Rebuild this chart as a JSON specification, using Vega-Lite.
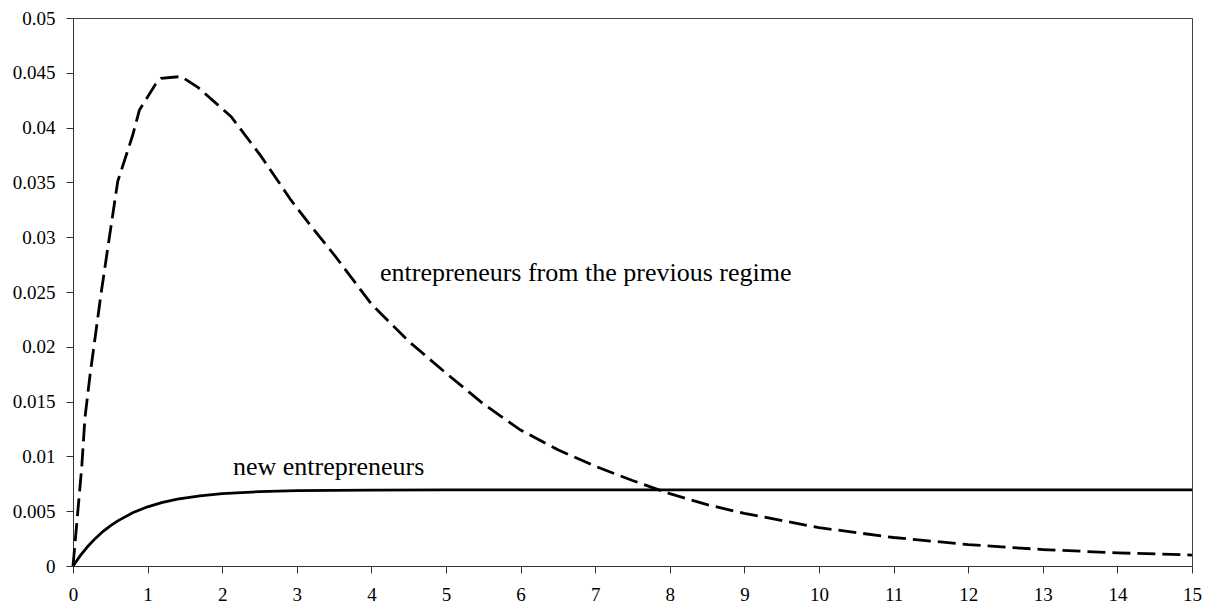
{
  "$schema": "https://vega.github.io/schema/vega-lite/v6.json",
  "width": 1119,
  "height": 548,
  "autosize": {"type": "none"},
  "padding": {"left": 73, "top": 18, "right": 14, "bottom": 39},
  "background": "white",
  "config": {
    "font": "Liberation Serif",
    "view": {"stroke": "#444", "strokeWidth": 1},
    "axis": {
      "labelFont": "Liberation Serif",
      "labelFontSize": 19,
      "labelColor": "black",
      "domainColor": "#333",
      "tickColor": "#333",
      "tickSize": 7,
      "grid": false,
      "title": null
    },
    "text": {"font": "Liberation Serif"}
  },
  "datasets": {
    "curves": [
      {"series": "previous", "t": 0, "v": 0},
      {"series": "previous", "t": 0.035, "v": 0.0027},
      {"series": "previous", "t": 0.07, "v": 0.0054},
      {"series": "previous", "t": 0.117, "v": 0.009},
      {"series": "previous", "t": 0.16, "v": 0.0135},
      {"series": "previous", "t": 0.23, "v": 0.0175},
      {"series": "previous", "t": 0.375, "v": 0.0248},
      {"series": "previous", "t": 0.49, "v": 0.0301},
      {"series": "previous", "t": 0.6, "v": 0.0351},
      {"series": "previous", "t": 0.8, "v": 0.0393},
      {"series": "previous", "t": 0.89, "v": 0.0416},
      {"series": "previous", "t": 1.11, "v": 0.044},
      {"series": "previous", "t": 1.18, "v": 0.0445},
      {"series": "previous", "t": 1.45, "v": 0.04466},
      {"series": "previous", "t": 1.67, "v": 0.0437},
      {"series": "previous", "t": 2.12, "v": 0.041},
      {"series": "previous", "t": 2.52, "v": 0.0374},
      {"series": "previous", "t": 2.92, "v": 0.0334},
      {"series": "previous", "t": 3.17, "v": 0.0312},
      {"series": "previous", "t": 3.5, "v": 0.0284},
      {"series": "previous", "t": 4.0, "v": 0.0239},
      {"series": "previous", "t": 4.5, "v": 0.0205},
      {"series": "previous", "t": 5.0, "v": 0.0176},
      {"series": "previous", "t": 5.5, "v": 0.0148},
      {"series": "previous", "t": 6.0, "v": 0.0124},
      {"series": "previous", "t": 6.5, "v": 0.0106},
      {"series": "previous", "t": 7.0, "v": 0.0091},
      {"series": "previous", "t": 7.5, "v": 0.0078},
      {"series": "previous", "t": 8.0, "v": 0.0066},
      {"series": "previous", "t": 8.5, "v": 0.0056},
      {"series": "previous", "t": 9.0, "v": 0.0048},
      {"series": "previous", "t": 10.0, "v": 0.0035},
      {"series": "previous", "t": 11.0, "v": 0.0026},
      {"series": "previous", "t": 12.0, "v": 0.00195},
      {"series": "previous", "t": 13.0, "v": 0.0015},
      {"series": "previous", "t": 14.0, "v": 0.0012},
      {"series": "previous", "t": 15.0, "v": 0.001},
      {"series": "new", "t": 0, "v": 0},
      {"series": "new", "t": 0.1, "v": 0.00097},
      {"series": "new", "t": 0.2, "v": 0.0018},
      {"series": "new", "t": 0.3, "v": 0.00252},
      {"series": "new", "t": 0.4, "v": 0.00314},
      {"series": "new", "t": 0.5, "v": 0.00367},
      {"series": "new", "t": 0.6, "v": 0.00412},
      {"series": "new", "t": 0.8, "v": 0.00486},
      {"series": "new", "t": 1.0, "v": 0.0054},
      {"series": "new", "t": 1.2, "v": 0.0058},
      {"series": "new", "t": 1.4, "v": 0.0061},
      {"series": "new", "t": 1.7, "v": 0.0064},
      {"series": "new", "t": 2.0, "v": 0.0066},
      {"series": "new", "t": 2.5, "v": 0.00679},
      {"series": "new", "t": 3.0, "v": 0.00687},
      {"series": "new", "t": 4.0, "v": 0.00693},
      {"series": "new", "t": 5.0, "v": 0.00695},
      {"series": "new", "t": 15.0, "v": 0.00695}
    ],
    "labels": [
      {"t": 2.145, "v": 0.0083, "text": "new entrepreneurs"},
      {"t": 4.115, "v": 0.026, "text": "entrepreneurs from the previous regime"}
    ]
  },
  "encoding": {
    "x": {
      "field": "t",
      "type": "quantitative",
      "scale": {"domain": [0, 15], "nice": false},
      "axis": {"values": [0,1,2,3,4,5,6,7,8,9,10,11,12,13,14,15], "labelPadding": 12, "labelFlush": false}
    },
    "y": {
      "field": "v",
      "type": "quantitative",
      "scale": {"domain": [0, 0.05], "nice": false},
      "axis": {"values": [0,0.005,0.01,0.015,0.02,0.025,0.03,0.035,0.04,0.045,0.05], "labelExpr": "format(datum.value, '~g')", "labelPadding": 11, "labelFlush": false}
    }
  },
  "layer": [
    {
      "data": {"name": "curves"},
      "transform": [{"filter": "datum.series === 'previous'"}],
      "mark": {"type": "line", "color": "black", "strokeWidth": 2.8, "strokeDash": [18, 7]}
    },
    {
      "data": {"name": "curves"},
      "transform": [{"filter": "datum.series === 'new'"}],
      "mark": {"type": "line", "color": "black", "strokeWidth": 2.8}
    },
    {
      "data": {"name": "labels"},
      "mark": {"type": "text", "align": "left", "baseline": "alphabetic", "font": "Liberation Serif", "fontSize": 26, "color": "black"},
      "encoding": {"text": {"field": "text"}}
    }
  ]
}
